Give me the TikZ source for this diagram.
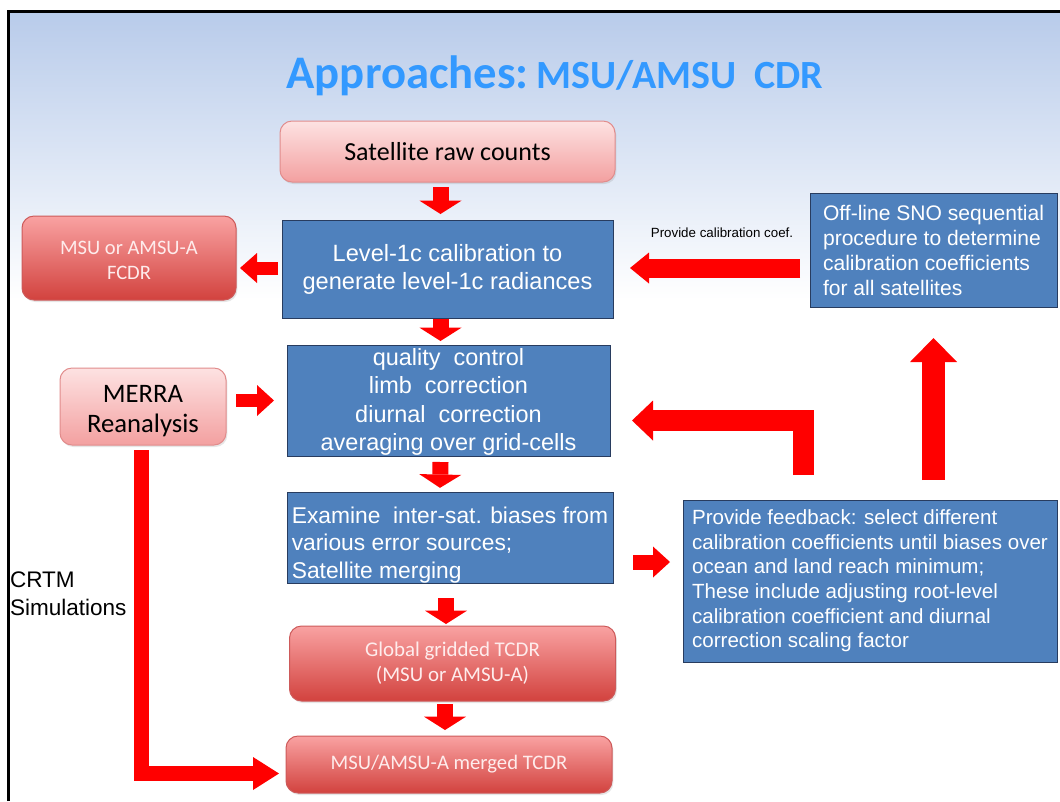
\documentclass[tikz,border=0pt]{standalone}
\usepackage{fontspec}
\setmainfont{Carlito}
\newfontfamily\arialf{Liberation Sans}
\usetikzlibrary{arrows.meta,calc,shadows}
\definecolor{titleblue}{RGB}{51,153,255}
\definecolor{boxblue}{RGB}{79,129,189}
\definecolor{boxborder}{RGB}{40,60,95}
\definecolor{pinktop}{RGB}{253,226,226}
\definecolor{pinkbot}{RGB}{243,160,160}
\definecolor{pinkborder}{RGB}{225,140,140}
\definecolor{redtop}{RGB}{249,162,162}
\definecolor{redbot}{RGB}{210,66,62}
\definecolor{redborder}{RGB}{205,90,90}
\definecolor{redtext}{RGB}{254,236,236}
\definecolor{bgtop}{RGB}{184,203,234}
\definecolor{arrowred}{RGB}{255,0,0}
\begin{document}
\begin{tikzpicture}[x=0.75pt,y=-0.75pt,
  every node/.style={inner sep=0pt, outer sep=0pt},
  sz/.style 2 args={minimum width=#1*0.75pt, minimum height=#2*0.75pt},
  bluebox/.style={draw=boxborder, line width=0.75pt, fill=boxblue, text=white},
  pinkbox/.style={draw=pinkborder, line width=0.75pt, rounded corners=9pt,
    top color=pinktop, bottom color=pinkbot, text=black,
    drop shadow={opacity=0.2, shadow xshift=1pt, shadow yshift=-1.5pt}},
  redbox/.style={draw=redborder, line width=0.75pt, rounded corners=9pt,
    top color=redtop, bottom color=redbot, text=redtext,
    drop shadow={opacity=0.2, shadow xshift=1pt, shadow yshift=-1.5pt}},
  arr/.style n args={3}{draw=arrowred, line width=#1, line join=miter,
    -{Triangle[length=#3, width=#2, line width=0pt]}}
]
\useasboundingbox (0,0) rectangle (1060,801);
% background and frame
\shade[top color=bgtop, bottom color=white] (8,11) rectangle (1060,300);
\draw[line width=2.25pt] (8,801) -- (8,11) -- (1060,11);

% title
\node[anchor=base, text=titleblue, font=\bfseries] (title) at (555,88)
  {{\fontsize{35pt}{40pt}\selectfont Approaches:}\hspace{3pt} {\fontsize{30pt}{34pt}\selectfont MSU/AMSU\ \ CDR}};

% nodes
\node[pinkbox, sz={335}{61}, font=\fontsize{19.5pt}{23pt}\selectfont] (sat) at (447.5,151.5) {Satellite raw counts};
\node[bluebox, sz={331}{98}, align=center, font=\arialf\fontsize{17.7pt}{21pt}\selectfont] (lvl) at (447.5,269)
  {Level-1c calibration to\\generate level-1c radiances};
\node[redbox, sz={214}{84}, align=center, font=\fontsize{15.4pt}{18.75pt}\selectfont] (fcdr) at (129,258)
  {\rule{0pt}{14pt}MSU or AMSU-A\\FCDR};
\node[bluebox, sz={247}{114}, align=left, font=\arialf\fontsize{15.8pt}{18.75pt}\selectfont] (sno) at (933.5,250)
  {Off-line SNO sequential\\procedure to determine\\calibration coefficients\\for all satellites};
\node[bluebox, sz={323}{111}, align=center, font=\arialf\fontsize{17.6pt}{21.2pt}\selectfont] (qc) at (448.5,400.5)
  {\rule{0pt}{15pt}quality\ \ control\\limb\ \ correction\\diurnal\ \ correction\\averaging over grid-cells};
\node[pinkbox, sz={166}{77}, align=center, font=\fontsize{20pt}{22.5pt}\selectfont] (merra) at (143,406.5)
  {\rule{0pt}{19pt}MERRA\\Reanalysis};
\node[bluebox, sz={326}{90}, align=left, font=\arialf\fontsize{17.1pt}{20.6pt}\selectfont] (exam) at (450,538)
  {\rule{0pt}{23pt}Examine\ \ inter-sat. biases from\\various error sources;\\Satellite merging};
\node[bluebox, sz={374}{162}, align=left, font=\arialf\fontsize{15.4pt}{18.5pt}\selectfont] (fb) at (870,581)
  {Provide feedback: select different\\calibration coefficients until biases over\\ocean and land reach minimum;\\These include adjusting root-level\\calibration coefficient and diurnal\\correction scaling factor};
\node[redbox, sz={326}{75}, align=center, font=\fontsize{15.7pt}{18.75pt}\selectfont] (glob) at (452.5,663.5)
  {Global gridded TCDR\\(MSU or AMSU-A)};
\node[redbox, sz={326}{57}, font=\fontsize{15.5pt}{18.75pt}\selectfont] (merged) at (449,764.5)
  {MSU/AMSU-A merged TCDR};
\node[font=\arialf\fontsize{10pt}{12pt}\selectfont] (cal) at (722,233) {Provide calibration coef.};
\node[anchor=west, align=left, font=\arialf\fontsize{16.9pt}{21pt}\selectfont] (crtm) at (10,594) {CRTM\\Simulations};

% connectors
\draw[arr={12pt}{31.5pt}{10pt}] ($(sat.south)+(-7,5)$) -- ($(lvl.north)+(-7,-6)$);
\draw[arr={12pt}{31.5pt}{10pt}] ($(lvl.south)+(-7,1)$) -- ($(qc.north)+(-8,-4)$);
\draw[arr={12pt}{31.5pt}{10pt}] ($(qc.south)+(-8,6)$) -- ($(exam.north)+(-10,-5)$);
\draw[arr={12pt}{31.5pt}{10pt}] ($(exam.south)+(-4,15)$) -- ($(glob.north)+(-6.5,-2)$);
\draw[arr={12pt}{31.5pt}{10pt}] ($(glob.south)+(-7.5,3)$) -- ($(merged.north)+(-4,-6)$);
\draw[arr={9.75pt}{22.5pt}{12.75pt}] ($(lvl.west)+(-4,-1)$) -- ($(fcdr.east |- lvl.west)+(4,-1)$);
\draw[arr={9.75pt}{23.25pt}{12.75pt}] ($(merra.east |- qc.west)+(10,0)$) -- ($(qc.west)+(-13,0)$);
\draw[arr={14.25pt}{23.25pt}{14.25pt}] ($(sno.west |- lvl.east)+(-10,-1)$) -- ($(lvl.east)+(17,-1)$);
\draw[arr={15.75pt}{30pt}{15.75pt}] ($(fb.north)+(-67,-25)$) |- ($(qc.east)+(22,20)$);
\draw[arr={17.25pt}{35.25pt}{18pt}] ($(fb.north -| sno.south)+(0,-20)$) -- ($(sno.south)+(0,31)$);
\draw[arr={11.25pt}{23.25pt}{12.75pt}] ($(exam.east)+(20,24)$) -- ($(fb.west)+(-13,-19)$);
\draw[arr={11.25pt}{24.75pt}{19.5pt}] ($(merra.south)+(-2,5)$) |- ($(merged.west)+(-7,9)$);
\end{tikzpicture}
\end{document}
